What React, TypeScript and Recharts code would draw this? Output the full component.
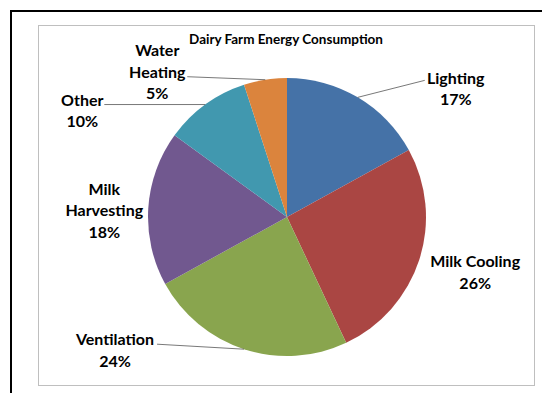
import React from 'react'
import { PieChart, Pie, Cell } from 'recharts'

const categories = ['Lighting', 'Milk Cooling', 'Ventilation', 'Milk Harvesting', 'Other', 'Water Heating']
const shares = [17, 26, 24, 18, 10, 5]
const colors = ['#4572A7', '#AA4643', '#89A54E', '#71588F', '#4198AF', '#DB843D']
const labelRows = [['Lighting'], ['Milk Cooling'], ['Ventilation'], ['Milk', 'Harvesting'], ['Other'], ['Water', 'Heating']]

// where each label sits relative to the slice's outer edge point, and where its leader line ends
const labelPlace = [
  { dx: 98, dy: -10, line: [67, -17] },
  { dx: 56, dy: 11, line: null },
  { dx: -129, dy: 0, line: [-87, -5] },
  { dx: -44, dy: 1, line: null },
  { dx: -123, dy: 5, line: [-101, 0] },
  { dx: -108, dy: -9, line: [-78, -3] },
]

const data = categories.map((name, i) => ({ name, value: shares[i] }))

const RAD = Math.PI / 180
const ROW = 21.5

type LabelProps = {
  cx: number
  cy: number
  midAngle: number
  outerRadius: number
  percent: number
  index: number
}

const renderLabel = ({ cx, cy, midAngle, outerRadius, percent, index }: LabelProps) => {
  const ex = cx + outerRadius * Math.cos(-midAngle * RAD)
  const ey = cy + outerRadius * Math.sin(-midAngle * RAD)
  const place = labelPlace[index]
  const tx = ex + place.dx
  const ty = ey + place.dy
  const rows = [...labelRows[index], `${Math.round(percent * 100)}%`]
  const top = ty - ((rows.length - 1) * ROW) / 2
  return (
    <g key={`lbl-${index}`}>
      {place.line && (
        <line x1={ex} y1={ey} x2={ex + place.line[0]} y2={ey + place.line[1]} stroke="#555" strokeWidth={0.8} />
      )}
      <text
        x={tx}
        y={top}
        textAnchor="middle"
        dominantBaseline="central"
        fontFamily="Lato, 'Open Sans', sans-serif"
        fontWeight="bold"
        fontSize={16}
        fill="#000"
      >
        {rows.map((r, i) => (
          <tspan key={i} x={tx} dy={i === 0 ? 0 : ROW}>
            {r}
          </tspan>
        ))}
      </text>
    </g>
  )
}

export default function App() {
  return (
    <div style={{ position: 'absolute', left: 0, top: 0, width: 542, height: 393, background: '#fff', overflow: 'hidden' }}>
      <div style={{ position: 'absolute', left: 10, top: 10, width: 540, height: 400, borderLeft: '2px solid #000', borderTop: '2px solid #000' }} />
      <div style={{ position: 'absolute', left: 38, top: 25, width: 495, height: 359, border: '1px solid #BFBFBF' }} />
      <div
        style={{
          position: 'absolute',
          left: 0,
          width: 572,
          top: 31,
          textAlign: 'center',
          fontFamily: "Lato, 'Open Sans', sans-serif",
          fontWeight: 'bold',
          fontSize: 13.5,
          color: '#000',
        }}
      >
        Dairy Farm Energy Consumption
      </div>
      <div style={{ position: 'absolute', left: 0, top: 0 }}>
        <PieChart width={542} height={393} margin={{ top: 0, right: 0, bottom: 0, left: 0 }}>
          <Pie
            data={data}
            dataKey="value"
            nameKey="name"
            cx={287}
            cy={217}
            outerRadius={139}
            startAngle={90}
            endAngle={-270}
            stroke="none"
            label={renderLabel}
            labelLine={false}
            isAnimationActive={false}
          >
            {data.map((d, i) => (
              <Cell key={d.name} fill={colors[i]} />
            ))}
          </Pie>
        </PieChart>
      </div>
    </div>
  )
}
